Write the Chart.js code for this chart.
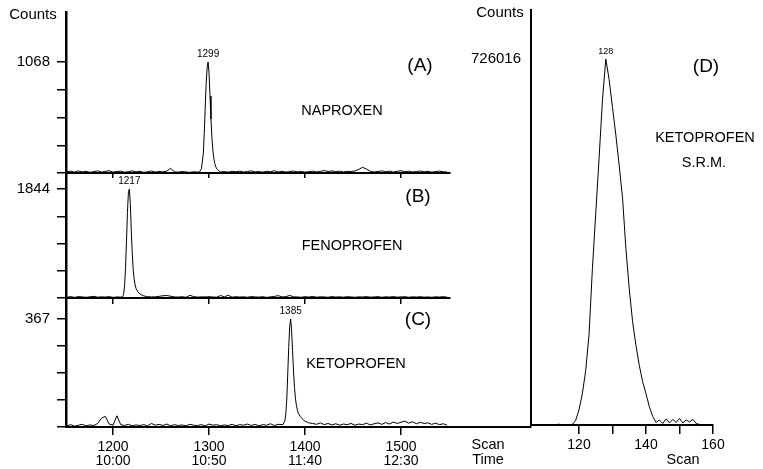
<!DOCTYPE html>
<html><head><meta charset="utf-8">
<script src="https://cdn.jsdelivr.net/npm/chart.js@4.4.1/dist/chart.umd.min.js"></script>
<style>
html,body{margin:0;padding:0;background:#fff;}
#wrap{position:relative;width:763px;height:469px;overflow:hidden;background:#fff;font-family:'Liberation Sans',Arial,Helvetica,sans-serif;color:#000;}
canvas{position:absolute;}
.t{position:absolute;transform:translate(-50%,-50%);white-space:nowrap;line-height:1;}
</style></head><body>
<div id="wrap">
<canvas id="cA" width="460" height="185" style="left:0;top:0"></canvas>
<canvas id="cB" width="460" height="149" style="left:0;top:161px"></canvas>
<canvas id="cC" width="545" height="183" style="left:0;top:286px"></canvas>
<canvas id="cD" width="323" height="469" style="left:440px;top:0"></canvas>
<div class="t" style="left:33px;top:13px;font-size:15px">Counts</div>
<div class="t" style="left:500px;top:11px;font-size:15px">Counts</div>
<div class="t" style="left:420px;top:64px;font-size:19px">(A)</div>
<div class="t" style="left:342px;top:110px;font-size:14.5px">NAPROXEN</div>
<div class="t" style="left:418px;top:195px;font-size:19px">(B)</div>
<div class="t" style="left:352px;top:245px;font-size:14.5px">FENOPROFEN</div>
<div class="t" style="left:418px;top:318px;font-size:19px">(C)</div>
<div class="t" style="left:356px;top:363px;font-size:14.5px">KETOPROFEN</div>
<div class="t" style="left:706px;top:65px;font-size:19px">(D)</div>
<div class="t" style="left:705px;top:137px;font-size:14.5px">KETOPROFEN</div>
<div class="t" style="left:704px;top:162px;font-size:14.5px">S.R.M.</div>
<div class="t" style="left:488px;top:444px;font-size:14.5px">Scan</div>
<div class="t" style="left:488px;top:459px;font-size:14.5px">Time</div>
<div class="t" style="left:683px;top:459px;font-size:14.5px">Scan</div>
</div>
<script>
const FONT = "'Liberation Sans', Arial, Helvetica, sans-serif";

// ---- Left panels (A, B, C): scan axis and time labels ----
const scanTicks = [1200, 1300, 1400, 1500];
const timeTicks = ['10:00', '10:50', '11:40', '12:30'];
const topA = 1068, topB = 1844, topC = 367;

// baseline noise sampled every 4 scans from scan 1152 (null = inside the peak)
const noiseStart = 1152, noiseStep = 4;
const noiseA = [12,18,8,20,10,16,6,14,20,9,
  15,22,8,14,18,7,13,20,11,16,
  6,12,19,9,15,10,18,45,12,8,
  14,10,6,12,8,null,null,null,null,null,
  10,14,8,16,12,18,9,15,20,11,
  14,8,17,12,22,10,16,9,14,19,
  11,15,8,13,18,10,16,24,14,20,
  12,18,10,16,14,20,35,55,38,16,
  10,15,20,12,18,9,16,22,12,17,
  10,14,19,11,16,8,14,18,12,10];
const peakScansA = [1290,1292,1294,1295,1296,1297,1298,1299,1300,1301,1302,1303,1304,1305,1306,1307,1308,1310];
const peakCountsA = [10,40,180,380,620,860,1010,1068,960,740,520,340,220,140,90,60,40,22];

const noiseB = [15,22,10,25,18,12,20,28,14,20,
  16,24,10,18,null,null,null,null,null,null,
  null,22,18,20,28,38,42,30,18,16,
  22,12,45,24,15,20,18,22,16,14,
  42,18,48,14,22,16,20,12,24,18,
  15,22,10,20,26,40,18,22,44,20,
  18,12,22,16,26,14,20,18,12,24,
  16,20,14,22,18,12,20,16,24,14,
  18,22,12,20,16,24,14,18,22,12,
  20,16,22,14,18,12,20,16,22,14];
const peakScansB = [1208,1210,1211,1212,1213,1214,1215,1216,1217,1218,1219,1220,1221,1222,1223,1224,1226,1228,1230,1232,1234];
const peakCountsB = [15,20,60,200,500,950,1450,1780,1844,1600,1150,760,480,320,220,160,100,70,50,35,28];

const noiseC = [4,8,3,6,9,4,7,5,12,30,
  36,10,6,38,8,5,9,4,7,5,
  8,4,12,6,9,5,10,4,8,5,
  7,4,9,6,5,8,4,10,6,8,
  4,7,5,9,4,8,6,10,5,9,
  4,8,6,11,5,9,null,null,null,null,
  null,null,null,null,12,9,14,8,12,7,
  11,6,10,8,12,6,10,8,13,7,
  11,14,9,15,10,17,12,16,20,13,
  18,11,16,12,14,9,13,8,11,6];
const peakScansC = [1377,1379,1380,1381,1382,1383,1384,1385,1386,1387,1388,1389,1390,1391,1392,1393,1395,1397,1399,1401,1404];
const peakCountsC = [8,22,45,95,180,270,340,367,330,260,190,135,98,74,58,47,36,28,22,18,14];

// ---- Right panel (D) ----
const scansD = [106,108,110,112,114,116,118,119,120,121,122,123,124,125,126,127,128,129,130,131,132,133,134,135,136,137,138,139,140,141,142,143,144,145,146,147,148,149,150,151,152,153,154,155,156];
const countsD = [0,0,1000,0,1500,0,1000,9000,30000,62000,108000,180000,310000,420000,530000,645000,726016,685000,630000,575000,515000,450000,350000,270000,205000,158000,118000,86000,62000,36000,17000,5000,10000,3000,12000,4000,11000,5000,13000,4000,10000,6000,11000,3000,1000];
const topD = 726016;
const scanTicksD = [120, 130, 140, 150, 160];
const scanLabelsD = ['120', '', '140', '', '160'];

function merge(noise, scans, counts) {
  const pts = [];
  noise.forEach((c, i) => { if (c !== null) pts.push({x: noiseStart + i * noiseStep, y: c}); });
  scans.forEach((s, i) => pts.push({x: s, y: counts[i]}));
  pts.sort((a, b) => a.x - b.x);
  return pts;
}

const peakLabelPlugin = {
  id: 'peakLabel',
  afterDatasetsDraw(chart, args, opts) {
    if (!opts || opts.text == null) return;
    const ctx = chart.ctx;
    const x = chart.scales.x.getPixelForValue(opts.scan);
    const y = chart.scales.y.getPixelForValue(opts.count);
    ctx.save();
    ctx.font = opts.size + 'px ' + FONT;
    ctx.fillStyle = '#000';
    ctx.textAlign = 'center';
    ctx.textBaseline = 'bottom';
    ctx.fillText(opts.text, x, y - 3);
    ctx.restore();
  }
};

const fixY = w => s => { s.width = w; s.paddingTop = 0; s.paddingBottom = 0; };
const fixX = h => s => { s.height = h; s.paddingLeft = 0; s.paddingRight = 0; };

const xMinLeft = 1151;

function leftChart(id, pts, o) {
  return new Chart(document.getElementById(id), {
    type: 'line',
    data: { datasets: [{ data: pts, borderColor: '#000', borderWidth: 1, pointRadius: 0, tension: 0, fill: false }] },
    plugins: [peakLabelPlugin],
    options: {
      responsive: false, animation: false, devicePixelRatio: 1,
      layout: { padding: { top: 12, right: o.padRight, left: 0, bottom: 0 } },
      plugins: { legend: { display: false }, tooltip: { enabled: false }, peakLabel: o.peak },
      scales: {
        x: {
          type: 'linear', min: xMinLeft, max: o.xMax,
          afterBuildTicks: s => { s.ticks = scanTicks.map(v => ({ value: v })); },
          afterFit: fixX(o.xHeight),
          grid: { drawOnChartArea: false, drawTicks: true, tickLength: o.tickLen, color: '#000', lineWidth: 1.5 },
          border: { display: true, color: '#000', width: 2 },
          ticks: {
            display: o.showLabels, autoSkip: false, maxRotation: 0, minRotation: 0, padding: 5, color: '#000',
            font: { family: FONT, size: 14, lineHeight: 1 },
            callback: v => { const i = scanTicks.indexOf(v); return i < 0 ? '' : [String(v), timeTicks[i]]; }
          }
        },
        y: {
          type: 'linear', min: 0, max: o.yMax,
          afterBuildTicks: s => { s.ticks = [0, 0.25, 0.5, 0.75, 1].map(f => ({ value: f * o.top })); },
          afterFit: fixY(66),
          grid: { drawOnChartArea: false, drawTicks: true, tickLength: 9, color: '#000', lineWidth: 1.5 },
          border: { display: true, color: '#000', width: 2.5 },
          ticks: {
            autoSkip: false, padding: 7, color: '#000', font: { family: FONT, size: 15 },
            callback: v => (v === o.top ? String(o.top) : '')
          }
        }
      }
    }
  });
}

leftChart('cA', merge(noiseA, peakScansA, peakCountsA), {
  padRight: 10, xMax: 1551, xHeight: 12, tickLen: 5, showLabels: false,
  top: topA, yMax: topA * 161 / 111,
  peak: { text: '1299', scan: 1299, count: topA, size: 10 }
});
leftChart('cB', merge(noiseB, peakScansB, peakCountsB), {
  padRight: 10, xMax: 1551, xHeight: 12, tickLen: 6, showLabels: false,
  top: topB, yMax: topB * 125 / 109,
  peak: { text: '1217', scan: 1217, count: topB, size: 10 }
});
leftChart('cC', merge(noiseC, peakScansC, peakCountsC), {
  padRight: 14, xMax: 1635.4, xHeight: 42, tickLen: 8, showLabels: true,
  top: topC, yMax: topC * 129 / 108,
  peak: { text: '1385', scan: 1385, count: topC, size: 10 }
});

new Chart(document.getElementById('cD'), {
  type: 'line',
  data: { datasets: [{ data: scansD.map((s, i) => ({ x: s, y: countsD[i] })), borderColor: '#000', borderWidth: 1, pointRadius: 0, tension: 0, fill: false }] },
  plugins: [peakLabelPlugin],
  options: {
    responsive: false, animation: false, devicePixelRatio: 1,
    layout: { padding: { top: 10, right: 50, left: 0, bottom: 0 } },
    plugins: { legend: { display: false }, tooltip: { enabled: false },
      peakLabel: { text: '128', scan: 128, count: topD, size: 9 } },
    scales: {
      x: {
        type: 'linear', min: 105.67, max: 160,
        afterBuildTicks: s => { s.ticks = scanTicksD.map(v => ({ value: v })); },
        afterFit: fixX(44),
        grid: { drawOnChartArea: false, drawTicks: true, tickLength: 9, color: '#000', lineWidth: 1.5 },
        border: { display: true, color: '#000', width: 2 },
        ticks: {
          autoSkip: false, maxRotation: 0, minRotation: 0, padding: 4, color: '#000',
          font: { family: FONT, size: 14, lineHeight: 1 },
          callback: v => { const i = scanTicksD.indexOf(v); return i < 0 ? '' : scanLabelsD[i]; }
        }
      },
      y: {
        type: 'linear', min: 0, max: topD * 415 / 366,
        afterBuildTicks: s => { s.ticks = [{ value: topD }]; },
        afterFit: fixY(91),
        grid: { drawOnChartArea: false, drawTicks: false, color: '#000' },
        border: { display: true, color: '#000', width: 2 },
        ticks: { autoSkip: false, padding: 10, color: '#000', font: { family: FONT, size: 15 },
          callback: v => String(v) }
      }
    }
  }
});
</script>
</body></html>
